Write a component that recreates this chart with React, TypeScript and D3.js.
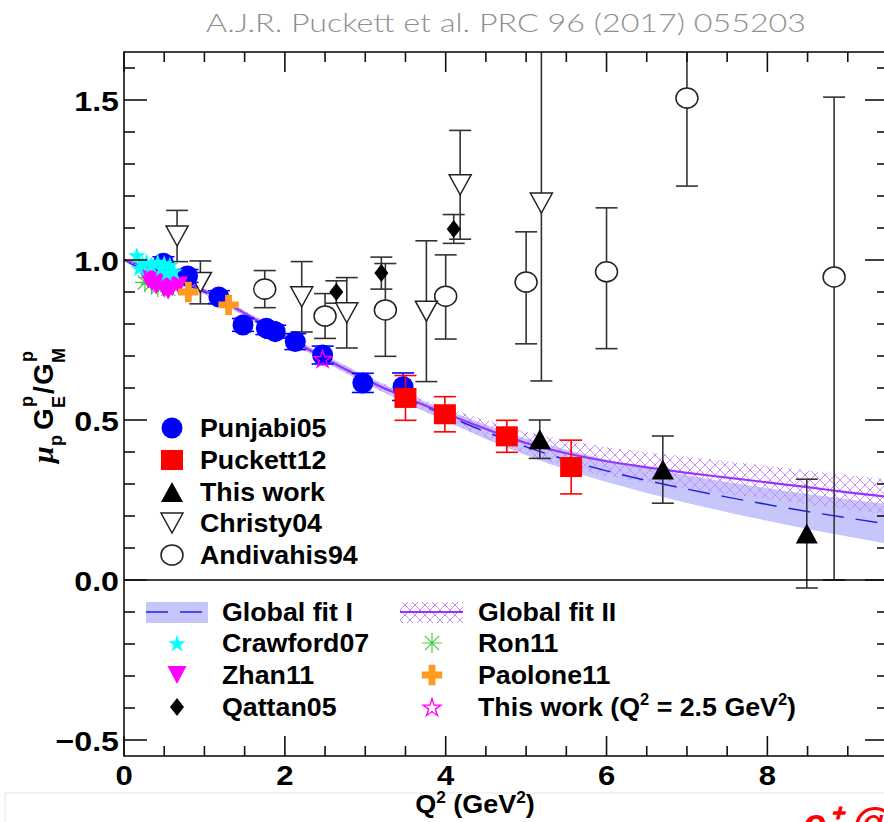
import React, { useEffect, useRef } from 'react';
import * as d3 from 'd3';

const WIDTH = 884;
const HEIGHT = 822;

// axis ticks
const xMajorTicks = [0, 2, 4, 6, 8];
const xTickLabels = ['0', '2', '4', '6', '8'];
const yMajorTicks = [-0.5, 0, 0.5, 1, 1.5];
const yTickLabels = ['\u22120.5', '0.0', '0.5', '1.0', '1.5'];

// Punjabi05
const punjabiQ2 = [0.49, 0.79, 1.18, 1.48, 1.77, 1.88, 2.13, 2.47, 2.97, 3.47];
const punjabiR = [0.99, 0.95, 0.884, 0.797, 0.787, 0.776, 0.745, 0.703, 0.616, 0.604];
const punjabiErr = [0.02, 0.02, 0.02, 0.02, 0.02, 0.02, 0.025, 0.028, 0.03, 0.043];

// Puckett12
const puckettQ2 = [3.5, 3.99, 4.76, 5.56];
const puckettR = [0.569, 0.518, 0.449, 0.353];
const puckettErr = [0.07, 0.055, 0.05, 0.084];

// This work
const thisQ2 = [5.17, 6.7, 8.49];
const thisR = [0.44, 0.345, 0.145];
const thisErr = [0.06, 0.105, 0.17];

// Christy04
const christyQ2 = [0.66, 0.95, 2.21, 2.77, 3.76, 4.18, 5.19];
const christyR = [1.075, 0.93, 0.885, 0.835, 0.84, 1.235, 1.178];
const christyErr = [0.08, 0.067, 0.11, 0.11, 0.22, 0.17, 0.556];

// Andivahis94
const andivahisQ2 = [1.75, 2.5, 3.25, 4.0, 5.0, 6.0, 7.0, 8.83];
const andivahisR = [0.909, 0.825, 0.844, 0.887, 0.931, 0.963, 1.506, 0.947];
const andivahisErrLo = [0.058, 0.07, 0.145, 0.134, 0.193, 0.24, 0.275, 0.947];
const andivahisErrHi = [0.058, 0.07, 0.145, 0.129, 0.157, 0.2, 0.275, 0.562];

// Crawford07
const crawfordQ2 = [0.16, 0.19, 0.23, 0.28, 0.34, 0.42, 0.46, 0.5, 0.53, 0.57, 0.62];
const crawfordR = [1.015, 0.975, 0.99, 0.995, 0.985, 0.995, 0.975, 0.99, 0.96, 0.985, 0.965];

// Zhan11
const zhanQ2 = [0.3, 0.35, 0.4, 0.45, 0.5, 0.55, 0.6, 0.68];
const zhanR = [0.94, 0.93, 0.92, 0.935, 0.91, 0.905, 0.915, 0.92];

// Ron11
const ronQ2 = [0.26, 0.3, 0.34, 0.38, 0.42, 0.46, 0.5, 0.55];
const ronR = [0.93, 0.945, 0.925, 0.935, 0.915, 0.93, 0.92, 0.91];

// Qattan05
const qattanQ2 = [2.64, 3.2, 4.1];
const qattanR = [0.9, 0.959, 1.097];
const qattanErr = [0.035, 0.05, 0.045];

// Paolone11
const paoloneQ2 = [0.8, 1.3];
const paoloneR = [0.9, 0.86];

// This work (Q2 = 2.5 GeV2)
const starQ2 = [2.47];
const starR = [0.692];

// Global fits
const fitQ2 = [0, 0.25, 0.5, 0.75, 1, 1.5, 2, 2.5, 3, 3.5, 4, 4.5, 5, 5.5, 6, 6.5, 7, 7.5, 8, 8.5, 9, 9.5];
const fit1 = [1.0, 0.968, 0.946, 0.925, 0.9, 0.832, 0.762, 0.692, 0.627, 0.568, 0.515, 0.463, 0.416, 0.376, 0.341, 0.311, 0.284, 0.259, 0.236, 0.214, 0.194, 0.175];
const fit1Err = [0.004, 0.005, 0.006, 0.007, 0.008, 0.009, 0.01, 0.011, 0.012, 0.014, 0.018, 0.022, 0.026, 0.031, 0.035, 0.039, 0.043, 0.047, 0.051, 0.055, 0.058, 0.062];
const fit2 = [1.0, 0.982, 0.96, 0.933, 0.905, 0.834, 0.762, 0.692, 0.627, 0.57, 0.52, 0.472, 0.428, 0.396, 0.371, 0.352, 0.335, 0.32, 0.305, 0.29, 0.274, 0.26];
const fit2Err = [0.004, 0.005, 0.006, 0.007, 0.008, 0.009, 0.01, 0.011, 0.012, 0.015, 0.02, 0.028, 0.035, 0.041, 0.045, 0.048, 0.05, 0.051, 0.052, 0.053, 0.054, 0.055];

const FONT = "'Liberation Sans', Arial, Helvetica, sans-serif";

const triUp = (w, h) => `M0,${-h / 2}L${w / 2},${h / 2}L${-w / 2},${h / 2}Z`;
const triDown = (w, h) => `M${-w / 2},${-h / 2}L${w / 2},${-h / 2}L0,${h / 2}Z`;
const diamond = (w, h) => `M0,${-h / 2}L${w / 2},0L0,${h / 2}L${-w / 2},0Z`;
const asterisk = (r) => {
    const a = r * Math.SQRT1_2;
    return `M${-r},0L${r},0M0,${-r}L0,${r}M${-a},${-a}L${a},${a}M${-a},${a}L${a},${-a}`;
};
const star = d3.symbol(d3.symbolStar, 95)();
const cross = d3.symbol(d3.symbolCross, 230)();

// marker drawers: (g, px, py) -> void
const markers = {
    punjabi: (g, px, py) => g.append('circle').attr('cx', px).attr('cy', py).attr('r', 10.5).attr('fill', '#0000ff'),
    puckett: (g, px, py) => g.append('rect').attr('x', px - 11).attr('y', py - 10).attr('width', 22).attr('height', 20).attr('fill', '#ff0000'),
    thiswork: (g, px, py) => g.append('path').attr('d', triUp(22, 20)).attr('transform', `translate(${px},${py})`).attr('fill', '#000'),
    christy: (g, px, py) => g.append('path').attr('d', triDown(22, 20)).attr('transform', `translate(${px},${py})`).attr('fill', '#fff').attr('stroke', '#222').attr('stroke-width', 1.5),
    andivahis: (g, px, py) => g.append('ellipse').attr('cx', px).attr('cy', py).attr('rx', 11).attr('ry', 10).attr('fill', '#fff').attr('stroke', '#222').attr('stroke-width', 1.5),
    crawford: (g, px, py) => g.append('path').attr('d', star).attr('transform', `translate(${px},${py + 1})`).attr('fill', '#00ffff'),
    zhan: (g, px, py) => g.append('path').attr('d', triDown(19, 18)).attr('transform', `translate(${px},${py})`).attr('fill', '#ff00ff'),
    ron: (g, px, py) => g.append('path').attr('d', asterisk(10)).attr('transform', `translate(${px},${py})`).attr('stroke', '#44cc44').attr('stroke-width', 1.2).attr('fill', 'none'),
    qattan: (g, px, py) => g.append('path').attr('d', diamond(14, 18)).attr('transform', `translate(${px},${py})`).attr('fill', '#000'),
    paolone: (g, px, py) => g.append('path').attr('d', cross).attr('transform', `translate(${px},${py})`).attr('fill', '#ff9922'),
    star: (g, px, py) => g.append('path').attr('d', star).attr('transform', `translate(${px},${py + 1})`).attr('fill', 'none').attr('stroke', '#ff00ff').attr('stroke-width', 1.4),
};

function App() {
    const svgRef = useRef(null);

    useEffect(() => {
        if (!svgRef.current) return;
        const svg = d3.select(svgRef.current);
        svg.selectAll('*').remove();

        const x = d3.scaleLinear().domain([0, 9.5]).range([124, 888]);
        const y = d3.scaleLinear().domain([-0.55, 1.65]).range([756, 52]);
        const [x0, x1] = x.range();
        const [y0, y1] = y.range();

        const defs = svg.append('defs');
        defs.append('clipPath').attr('id', 'plotclip')
            .append('rect').attr('x', x0).attr('y', y1).attr('width', x1 - x0).attr('height', y0 - y1);
        const hatch = defs.append('pattern').attr('id', 'hatch')
            .attr('patternUnits', 'userSpaceOnUse').attr('width', 10).attr('height', 10);
        hatch.append('path').attr('d', 'M0,0L10,10M10,0L0,10')
            .attr('stroke', '#c58cff').attr('stroke-width', 1).attr('fill', 'none');

        // faint slide frame + red text at the bottom
        svg.append('rect').attr('x', 5).attr('y', 793).attr('width', 900).attr('height', 100)
            .attr('fill', 'none').attr('stroke', '#eeeeee').attr('stroke-width', 1.5);
        svg.append('text').attr('x', 803).attr('y', 838)
            .attr('font-family', FONT).attr('font-weight', 'bold').attr('font-style', 'italic')
            .attr('font-size', 42).attr('fill', '#ff0000').text('e\u207A @');

        // title
        svg.append('text').attr('x', 506).attr('y', 32).attr('text-anchor', 'middle')
            .attr('font-family', "Lato, 'Open Sans', sans-serif").attr('font-weight', 300)
            .attr('font-size', 25).attr('fill', '#8f8f8f')
            .attr('textLength', 600).attr('lengthAdjust', 'spacingAndGlyphs')
            .text('A.J.R. Puckett et al. PRC 96 (2017) 055203');

        const plot = svg.append('g').attr('clip-path', 'url(#plotclip)');

        // fit bands and curves
        const fitData = (v, e) => fitQ2.map((q, i) => ({ q, v: v[i], e: e[i] }));
        const area = d3.area().x(d => x(d.q)).y0(d => y(d.v - d.e)).y1(d => y(d.v + d.e)).curve(d3.curveMonotoneX);
        const line = d3.line().x(d => x(d.q)).y(d => y(d.v)).curve(d3.curveMonotoneX);

        plot.append('path').datum(fitData(fit1, fit1Err)).attr('d', area).attr('fill', '#c6c6fb');
        plot.append('path').datum(fitData(fit2, fit2Err)).attr('d', area).attr('fill', 'url(#hatch)');
        plot.append('path').datum(fitData(fit1, fit1Err)).attr('d', line)
            .attr('fill', 'none').attr('stroke', '#2222dd').attr('stroke-width', 1.5).attr('stroke-dasharray', '22,12');
        plot.append('path').datum(fitData(fit2, fit2Err)).attr('d', line)
            .attr('fill', 'none').attr('stroke', '#9933ff').attr('stroke-width', 2.2);

        // error bars
        const errorBars = (qs, rs, lo, hi, color) => {
            qs.forEach((q, i) => {
                const px = x(q);
                const ya = y(rs[i] + hi[i]);
                const yb = y(rs[i] - lo[i]);
                plot.append('line').attr('x1', px).attr('x2', px).attr('y1', ya).attr('y2', yb)
                    .attr('stroke', color).attr('stroke-width', 1.6);
                [ya, yb].forEach(yy => {
                    plot.append('line').attr('x1', px - 11).attr('x2', px + 11).attr('y1', yy).attr('y2', yy)
                        .attr('stroke', color).attr('stroke-width', 1.6);
                });
            });
        };

        const points = (qs, rs, draw) => qs.forEach((q, i) => draw(plot, x(q), y(rs[i])));

        errorBars(andivahisQ2, andivahisR, andivahisErrLo, andivahisErrHi, '#333');
        errorBars(christyQ2, christyR, christyErr, christyErr, '#333');
        errorBars(qattanQ2, qattanR, qattanErr, qattanErr, '#333');
        points(andivahisQ2, andivahisR, markers.andivahis);
        points(christyQ2, christyR, markers.christy);
        points(qattanQ2, qattanR, markers.qattan);

        errorBars(punjabiQ2, punjabiR, punjabiErr, punjabiErr, '#0000ff');
        points(punjabiQ2, punjabiR, markers.punjabi);
        errorBars(puckettQ2, puckettR, puckettErr, puckettErr, '#ff0000');
        points(puckettQ2, puckettR, markers.puckett);
        errorBars(thisQ2, thisR, thisErr, thisErr, '#333');
        points(thisQ2, thisR, markers.thiswork);

        points(ronQ2, ronR, markers.ron);
        points(zhanQ2, zhanR, markers.zhan);
        points(crawfordQ2, crawfordR, markers.crawford);
        points(paoloneQ2, paoloneR, markers.paolone);
        points(starQ2, starR, markers.star);

        // zero line
        svg.append('line').attr('x1', x0).attr('x2', x1).attr('y1', y(0)).attr('y2', y(0))
            .attr('stroke', '#000').attr('stroke-width', 1.6);

        // frame and ticks
        const frame = svg.append('g').attr('stroke', '#111').attr('stroke-width', 1.6);
        frame.append('rect').attr('x', x0).attr('y', y1).attr('width', x1 - x0).attr('height', y0 - y1).attr('fill', 'none');
        d3.range(0, 9.5001, 0.5).forEach(t => {
            const len = xMajorTicks.includes(t) ? 20 : 10;
            frame.append('line').attr('x1', x(t)).attr('x2', x(t)).attr('y1', y0).attr('y2', y0 - len);
            frame.append('line').attr('x1', x(t)).attr('x2', x(t)).attr('y1', y1).attr('y2', y1 + len);
        });
        d3.range(-5, 17).map(k => k / 10).forEach(t => {
            const len = yMajorTicks.some(m => Math.abs(m - t) < 1e-6) ? 23 : 11;
            frame.append('line').attr('x1', x0).attr('x2', x0 + len).attr('y1', y(t)).attr('y2', y(t));
            frame.append('line').attr('x1', x1).attr('x2', x1 - len).attr('y1', y(t)).attr('y2', y(t));
        });

        // tick labels
        const label = (px, py, str, size, anchor, sx) =>
            svg.append('text').attr('transform', `translate(${px},${py}) scale(${sx},1)`)
                .attr('text-anchor', anchor).attr('font-family', FONT).attr('font-weight', 'bold')
                .attr('font-size', size).attr('fill', '#000').text(str);

        yMajorTicks.forEach((t, i) => label(119, y(t) + 11, yTickLabels[i], 28, 'end', 1.15));
        xMajorTicks.forEach((t, i) => label(x(t), 785, xTickLabels[i], 27, 'middle', 1.15));

        // x axis title
        const xt = svg.append('text').attr('transform', 'translate(475,813) scale(1.08,1)')
            .attr('text-anchor', 'middle').attr('font-family', FONT).attr('font-weight', 'bold').attr('font-size', 25);
        xt.append('tspan').text('Q');
        xt.append('tspan').attr('dy', -10).attr('font-size', 16).text('2');
        xt.append('tspan').attr('dy', 10).text(' (GeV');
        xt.append('tspan').attr('dy', -10).attr('font-size', 16).text('2');
        xt.append('tspan').attr('dy', 10).text(')');

        // y axis title
        const yt = svg.append('g').attr('transform', 'translate(53,463) rotate(-90)')
            .attr('font-family', FONT).attr('font-weight', 'bold').attr('fill', '#000');
        const ypart = (lx, ly, str, size, italic) => yt.append('text').attr('x', lx).attr('y', ly)
            .attr('font-size', size).attr('font-style', italic ? 'italic' : 'normal')
            .attr('font-family', italic ? "'Liberation Serif', serif" : FONT).text(str);
        ypart(0, 0, '\u03BC', 30, true);
        ypart(17, 9, 'p', 18);
        ypart(33, 0, 'G', 28);
        ypart(56, -20, 'p', 18);
        ypart(55, 12, 'E', 18);
        ypart(69, 0, '/', 28);
        ypart(78, 0, 'G', 28);
        ypart(101, -20, 'p', 18);
        ypart(100, 12, 'M', 18);

        // upper legend
        const upperLegend = [
            ['Punjabi05', markers.punjabi],
            ['Puckett12', markers.puckett],
            ['This work', markers.thiswork],
            ['Christy04', markers.christy],
            ['Andivahis94', markers.andivahis],
        ];
        const upperRows = [428, 460, 492, 523, 555];
        upperLegend.forEach(([name, draw], i) => {
            draw(svg, 172, upperRows[i]);
            label(200, upperRows[i] + 9, name, 26, 'start', 1.03);
        });

        // lower legend
        const lowerRows = [612, 643, 675, 707];
        svg.append('rect').attr('x', 146).attr('y', 602).attr('width', 62).attr('height', 21).attr('fill', '#c6c6fb');
        svg.append('line').attr('x1', 146).attr('x2', 208).attr('y1', 612).attr('y2', 612)
            .attr('stroke', '#2222dd').attr('stroke-width', 1.5).attr('stroke-dasharray', '22,12');
        label(222, lowerRows[0] + 9, 'Global fit I', 26, 'start', 1.03);
        svg.append('rect').attr('x', 400).attr('y', 602).attr('width', 63).attr('height', 21).attr('fill', 'url(#hatch)');
        svg.append('line').attr('x1', 400).attr('x2', 463).attr('y1', 612).attr('y2', 612)
            .attr('stroke', '#9933ff').attr('stroke-width', 2.2);
        label(478, lowerRows[0] + 9, 'Global fit II', 26, 'start', 1.03);

        const lowerLegend = [
            ['Crawford07', markers.crawford, 177, 222, 1],
            ['Zhan11', markers.zhan, 177, 222, 2],
            ['Qattan05', markers.qattan, 177, 222, 3],
            ['Ron11', markers.ron, 432, 478, 1],
            ['Paolone11', markers.paolone, 432, 478, 2],
        ];
        lowerLegend.forEach(([name, draw, mx, tx, r]) => {
            const row = lowerRows[r];
            draw(svg, mx, row);
            label(tx, row + 9, name, 26, 'start', 1.03);
        });
        markers.star(svg, 432, lowerRows[3]);
        const lt = svg.append('text').attr('transform', `translate(478,${lowerRows[3] + 9}) scale(1.03,1)`)
            .attr('font-family', FONT).attr('font-weight', 'bold').attr('font-size', 26);
        lt.append('tspan').text('This work (Q');
        lt.append('tspan').attr('dy', -11).attr('font-size', 16).text('2');
        lt.append('tspan').attr('dy', 11).text(' = 2.5 GeV');
        lt.append('tspan').attr('dy', -11).attr('font-size', 16).text('2');
        lt.append('tspan').attr('dy', 11).text(')');
    }, []);

    return (
        <svg ref={svgRef} width={WIDTH} height={HEIGHT}
            style={{ position: 'absolute', left: 0, top: 0, background: '#fff' }} />
    );
}

export default App;
